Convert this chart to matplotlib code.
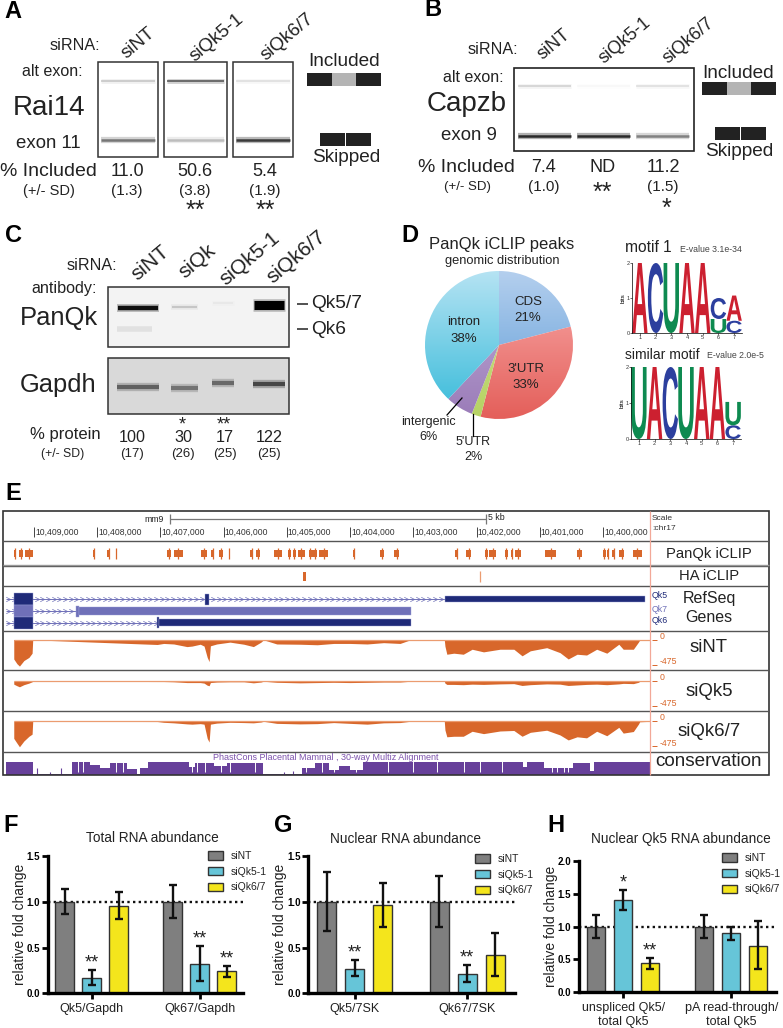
import numpy as np
import matplotlib
matplotlib.use('Agg')
import matplotlib.pyplot as plt
from matplotlib.colors import LinearSegmentedColormap
from matplotlib.font_manager import FontProperties
from matplotlib.patches import PathPatch, Rectangle
from matplotlib.path import Path
from matplotlib.textpath import TextPath
from matplotlib.transforms import Affine2D

W, H = 783, 1028
plt.rcParams['font.family'] = ['Liberation Sans', 'DejaVu Sans']
TXT = '#222222'
ORANGE = '#d8672b'
PINK = '#f2a898'
PURPLE = '#67409a'
NAVY = '#1f2a78'
LILAC = '#6f70b8'

# gels, panels A and B (band darkness 0-1)
GEL_A_ALT = [0.18, 0.60, 0.10]
GEL_A_EXON = [0.50, 0.22, 0.80]
GEL_B_ALT = [0.14, 0.02, 0.10]
GEL_B_EXON = [0.90, 0.90, 0.45]
LANES_ABC = ['siNT', 'siQk5-1', 'siQk6/7']
A_INCL = ['11.0', '50.6', '5.4']
A_SD = ['(1.3)', '(3.8)', '(1.9)']
A_STARS = ['', '**', '**']
B_INCL = ['7.4', 'ND', '11.2']
B_SD = ['(1.0)', '', '(1.5)']

# western, panel C
LANES_C = ['siNT', 'siQk', 'siQk5-1', 'siQk6/7']
WB_QK57 = [0.92, 0.15, 0.04, 1.0]
WB_QK6 = [0.07, 0.0, 0.0, 0.0]
WB_GAPDH = [0.55, 0.45, 0.50, 0.70]
C_PROT = ['100', '30', '17', '122']
C_SD = ['(17)', '(26)', '(25)', '(25)']
C_STARS = ['', '*', '**', '']

# pie, panel D
PIE_NAMES = ['CDS', "3'UTR", "5'UTR", 'intergenic', 'intron']
PIE_VALUES = [21, 33, 2, 6, 38]

# sequence logos, letters from bottom to top with height in bits
MOTIF1 = [[('A', 2.0)], [('C', 2.0)], [('U', 2.0)], [('A', 2.0)], [('A', 2.0)],
          [('U', 0.40), ('C', 0.60)], [('C', 0.35), ('A', 0.72)]]
MOTIF2 = [[('U', 2.0)], [('A', 2.0)], [('C', 2.0)], [('U', 2.0)], [('A', 2.0)], [('A', 2.0)],
          [('C', 0.38), ('U', 0.65)]]

# browser view, panel E (positions in kb on chr17)
TICK_KB = [10409, 10408, 10407, 10406, 10405, 10404, 10403, 10402, 10401, 10400]
ICLIP_START = [10409.32, 10409.24, 10409.14, 10408.07, 10407.84, 10407.71, 10406.90, 10406.78, 10406.36,
               10406.20, 10406.08, 10405.92, 10405.58, 10405.49, 10405.21, 10404.98, 10404.90, 10404.83,
               10404.65, 10404.60, 10404.49, 10403.95, 10403.52, 10403.30, 10402.34, 10402.17, 10401.87,
               10401.80, 10401.55, 10401.46, 10401.39, 10400.91, 10400.41, 10400.00, 10399.93, 10399.85,
               10399.74, 10399.53]
ICLIP_END = [10409.29, 10409.17, 10409.02, 10408.03, 10407.80, 10407.69, 10406.83, 10406.65, 10406.26,
             10406.15, 10406.01, 10405.90, 10405.53, 10405.43, 10405.08, 10404.94, 10404.86, 10404.72,
             10404.61, 10404.52, 10404.35, 10403.92, 10403.46, 10403.23, 10402.29, 10402.08, 10401.82,
             10401.69, 10401.51, 10401.43, 10401.30, 10400.75, 10400.34, 10399.96, 10399.90, 10399.81,
             10399.66, 10399.38]
HA_START = [10404.75]
HA_END = [10404.70]
HA_THIN = [10401.95]

QK5_EXONS = [(10409.32, 10409.02, 12), (10406.30, 10406.23, 11), (10402.50, 10399.33, 6)]
QK7_EXONS = [(10409.32, 10409.02, 12), (10408.33, 10408.29, 11), (10408.29, 10403.04, 7.5)]
QK6_EXONS = [(10409.32, 10409.02, 12), (10407.05, 10407.02, 11), (10407.02, 10403.04, 7.5)]
QK5_INTRON = (10409.44, 10402.50)
QK7_INTRON = (10409.44, 10408.33)
QK6_INTRON = (10409.44, 10407.05)

COV_KB = [10409.32, 10409.27, 10409.23, 10409.16, 10409.08, 10409.03, 10409.02,
          10407.05, 10406.95, 10406.79, 10406.58, 10406.50, 10406.37, 10406.31, 10406.26, 10406.23, 10406.21,
          10406.11, 10405.90, 10405.68, 10405.53, 10405.41, 10405.37,
          10405.16, 10404.79, 10404.52, 10404.26, 10404.00, 10403.73, 10403.47, 10403.21, 10403.08, 10403.05,
          10402.51, 10402.50, 10402.47, 10402.36, 10402.21, 10402.07, 10401.89, 10401.63, 10401.41, 10401.28,
          10401.15, 10400.89, 10400.68, 10400.55, 10400.41, 10400.26, 10400.10, 10399.94, 10399.75, 10399.68,
          10399.52, 10399.44, 10399.42, 10399.25]
COV_SINT = [370, 460, 505, 400, 340, 260, 6,
            95, 75, 85, 135, 125, 90, 125, 340, 420, 120, 85, 50, 90, 135, 50, 6,
            85, 90, 100, 75, 75, 85, 60, 75, 20, 6,
            6, 125, 280, 260, 280, 185, 235, 185, 185, 310, 215, 155, 250, 370, 280, 295, 185, 260, 90, 185, 185, 50, 12, 6]
COV_SIQK5 = [60, 90, 110, 70, 40, 15, 3,
             10, 10, 15, 30, 30, 30, 40, 80, 90, 30, 20, 15, 15, 35, 20, 5,
             25, 35, 30, 25, 30, 25, 20, 20, 8, 4,
             4, 40, 65, 65, 70, 60, 65, 55, 50, 85, 70, 55, 60, 85, 75, 65, 60, 70, 55, 45, 50, 25, 8, 4]
COV_SIQK67 = [330, 420, 490, 380, 290, 250, 6,
              10, 25, 35, 55, 60, 50, 60, 330, 400, 60, 40, 25, 30, 35, 20, 6,
              45, 55, 50, 30, 45, 60, 35, 30, 10, 6,
              6, 170, 300, 290, 290, 195, 240, 190, 180, 290, 215, 175, 265, 360, 300, 320, 195, 280, 120, 230, 200, 60, 15, 6]
COV_NAMES = ['siNT', 'siQk5', 'siQk6/7']

CONS_KB = [10409.45, 10409.01, 10408.75, 10408.70, 10408.40, 10408.11, 10407.95, 10407.79, 10407.53, 10407.37,
           10407.32, 10407.19, 10406.55, 10406.45, 10406.16, 10405.95, 10405.68, 10405.37, 10404.76, 10404.55,
           10404.34, 10404.18, 10404.00, 10403.79, 10401.26, 10401.20, 10400.94, 10400.47, 10400.20, 10400.15,
           10399.25]
CONS_H = [1.0, 0.05, 0.05, 0.05, 1.0, 0.75, 0.55, 0.9, 0.45, 0.10,
          0.5, 1.0, 0.6, 0.95, 0.65, 0.9, 0.95, 0.06, 0.5, 0.9,
          0.4, 0.7, 0.4, 1.0, 0.6, 1.0, 0.5, 0.95, 0.3, 1.0, 1.0]
CONS_SPIKE_KB = [10408.96, 10408.74, 10408.58, 10405.05, 10404.90]
CONS_SPIKE_H = [0.55, 0.25, 0.55, 0.2, 0.3]
CONS_DIPS = [10408.30, 10408.22, 10407.70, 10407.60, 10406.50, 10406.42, 10406.30, 10406.05, 10405.90, 10405.50,
             10404.70, 10404.45, 10404.25, 10403.90, 10403.40, 10403.00, 10402.62, 10402.20, 10401.95, 10401.60,
             10400.80, 10400.72, 10400.62, 10400.55]

# bar charts, panels F, G, H
BAR_SERIES = ['siNT', 'siQk5-1', 'siQk6/7']
F_GROUPS = ['Qk5/Gapdh', 'Qk67/Gapdh']
F_VALS = [1.0, 0.17, 0.95, 1.0, 0.32, 0.24]
F_LOW = [0.87, 0.09, 0.81, 0.82, 0.13, 0.18]
F_HIGH = [1.14, 0.26, 1.11, 1.18, 0.52, 0.30]
F_STARS = ['', '**', '', '', '**', '**']
G_GROUPS = ['Qk5/7SK', 'Qk67/7SK']
G_VALS = [1.0, 0.27, 0.96, 1.0, 0.21, 0.42]
G_LOW = [0.68, 0.19, 0.72, 0.72, 0.12, 0.19]
G_HIGH = [1.33, 0.36, 1.20, 1.28, 0.31, 0.66]
G_STARS = ['', '**', '', '', '**', '']
H_GROUPS = ['unspliced Qk5/\ntotal Qk5', 'pA read-through/\ntotal Qk5']
H_VALS = [1.0, 1.41, 0.44, 1.0, 0.90, 0.71]
H_LOW = [0.83, 1.25, 0.36, 0.83, 0.80, 0.35]
H_HIGH = [1.17, 1.56, 0.52, 1.18, 1.00, 1.08]
H_STARS = ['', '*', '**', '', '', '']


def px_axes(x0, y0, x1, y1, **kw):
    return fig.add_axes([x0 / W, 1 - y1 / H, (x1 - x0) / W, (y1 - y0) / H], **kw)


def label(x, y, s, size, ha='center', color=TXT, **kw):
    ov.text(x, y, s, fontsize=size, ha=ha, va='center', color=color, **kw)


def lane_labels(xs, ys, names, size=13.5):
    for x, y, name in zip(xs, ys, names):
        label(x, y, name, size, rotation=40, rotation_mode='anchor')


def gel(x0, x1, y_alt, y_exon, alt, exon):
    ov.hlines(y_alt, x0, x1, color='0.15', lw=3.5, alpha=alt * 0.35)
    ov.hlines(y_alt, x0, x1, color='0.15', lw=1.4, alpha=alt)
    ov.hlines(y_exon, x0, x1, color='0.15', lw=4.5, alpha=exon * 0.4)
    ov.hlines(y_exon, x0, x1, color='0.1', lw=1.8, alpha=exon)


def exon_icon(x, y, included=True):
    if included:
        ov.add_patch(Rectangle((x, y), 25, 13, fc='#222222', ec='none'))
        ov.add_patch(Rectangle((x + 25, y), 24, 13, fc='#b4b4b4', ec='none'))
        ov.add_patch(Rectangle((x + 49, y), 25, 13, fc='#222222', ec='none'))
    else:
        ov.add_patch(Rectangle((x, y), 25, 13, fc='#222222', ec='none'))
        ov.add_patch(Rectangle((x + 26, y), 25, 13, fc='#222222', ec='none'))


def logo(ax, motif):
    colors = {'A': '#cc2030', 'C': '#2c3f9e', 'U': '#0e8a50'}
    fp = FontProperties(family='Liberation Sans', weight='bold')
    for i, stack in enumerate(motif):
        base = 0
        for letter, h in stack:
            tp = TextPath((0, 0), letter, size=1, prop=fp)
            box = tp.get_extents()
            tr = Affine2D().translate(-box.x0, -box.y0).scale(0.98 / box.width, h / box.height)
            tr = tr.translate(i + 0.51, base)
            ax.add_patch(PathPatch(tr.transform_path(tp), fc=colors[letter], ec='none'))
            base += h
    ax.set_xlim(0.5, 7.5)
    ax.set_ylim(0, 2)
    ax.set_xticks(range(1, 8))
    ax.set_yticks([0, 1, 2])
    ax.tick_params(labelsize=4, length=1.5, width=0.5, pad=0, colors='#333333')
    ax.set_ylabel('bits', fontsize=4.5, labelpad=0.5)
    for s in ['top', 'right']:
        ax.spines[s].set_visible(False)
    for s in ['left', 'bottom']:
        ax.spines[s].set_linewidth(0.5)
    ax.patch.set_alpha(0)


def track(y0, y1):
    ax = px_axes(3, y0, 769, y1)
    ax.set_xlim(KB_LEFT, KB_RIGHT)
    ax.axis('off')
    ax.patch.set_alpha(0)
    return ax


def barchart(rect, vals, low, high, stars, groups, ymax, yticks, title_xy, title, star_pad):
    first, step, left, right, top, bottom = rect
    ax = px_axes(left, top, right, bottom)
    x = [0, 1, 2, 4, 5, 6]
    colors = ['#7f7f7f', '#66c5d8', '#f4e51c'] * 2
    ax.axhline(1.0, color='#111111', lw=1.7, ls=(0, (1, 1.4)), zorder=1)
    bars = ax.bar(x, vals, width=0.67, color=colors, edgecolor='#333333', lw=1, zorder=2)
    err = [np.array(vals) - np.array(low), np.array(high) - np.array(vals)]
    ax.errorbar(x, vals, yerr=err, fmt='none', ecolor='#111111', elinewidth=1.7, capsize=3, capthick=1.7, zorder=3)
    for xi, hi, st in zip(x, high, stars):
        if st:
            ax.annotate(st, (xi, hi), xytext=(0, star_pad), textcoords='offset points', ha='center', va='center',
                        fontsize=13, color=TXT)
    ax.set_xlim((left - first) / step, (right - first) / step)
    ax.set_ylim(0, ymax)
    ax.set_xticks([1, 5])
    ax.set_xticklabels(groups, fontsize=9, color=TXT, linespacing=1.25)
    ax.set_yticks(yticks)
    ax.set_yticklabels(['%.1f' % t for t in yticks], fontsize=7, fontweight='bold')
    ax.tick_params(axis='both', width=2, length=4, pad=1.5)
    ax.tick_params(axis='x', pad=3)
    ax.set_ylabel('relative fold change', fontsize=10, color=TXT, labelpad=0)
    for s in ['top', 'right']:
        ax.spines[s].set_visible(False)
    for s in ['left', 'bottom']:
        ax.spines[s].set_linewidth(2.4)
    ax.patch.set_alpha(0)
    label(title_xy[0], title_xy[1], title, 9.8)
    return ax, bars


fig = plt.figure(figsize=(W / 100, H / 100), dpi=100)
ov = fig.add_axes([0, 0, 1, 1], zorder=10)
ov.set_xlim(0, W)
ov.set_ylim(H, 0)
ov.axis('off')

for s, x, y in [('A', 13, 11), ('B', 433, 10), ('C', 13, 236), ('D', 410, 235), ('E', 13, 494),
                ('F', 11, 825), ('G', 283, 825), ('H', 556, 825)]:
    label(x, y, s, 17, color='black', fontweight='bold')

# panel A
label(100, 46, 'siRNA:', 11.6, ha='right')
label(83, 72, 'alt exon:', 11.5, ha='right')
label(49, 108, 'Rai14', 20)
label(48.5, 144, 'exon 11', 13.4)
label(0, 171, '% Included', 14, ha='left')
label(49, 191, '(+/- SD)', 10.5)
lane_labels([138, 217, 287], [43, 38, 37], LANES_ABC)
for i, (x0, x1, xc) in enumerate([(98, 158, 127), (164, 227, 195), (233, 293, 265)]):
    ov.add_patch(Rectangle((x0, 62), x1 - x0, 95, fc='white', ec='#333333', lw=1.1))
    gel(x0 + 3, x1 - 3, 81, 140, GEL_A_ALT[i], GEL_A_EXON[i])
    label(xc, 172, A_INCL[i], 13)
    label(xc, 191, A_SD[i], 11)
    label(xc, 211, A_STARS[i], 18)
label(344, 62, 'Included', 13.7)
exon_icon(307, 73)
exon_icon(320, 133, False)
label(346, 158, 'Skipped', 13.7)

# panel B
label(518, 50, 'siRNA:', 11.6, ha='right')
label(504, 77, 'alt exon:', 11.5, ha='right')
label(467, 104, 'Capzb', 20)
label(469, 136, 'exon 9', 13.4)
label(418, 168, '% Included', 14, ha='left')
label(467, 187, '(+/- SD)', 9.5)
lane_labels([554, 625, 688], [45, 41, 41], LANES_ABC, size=13)
ov.add_patch(Rectangle((514, 68), 180, 83, fc='white', ec='#222222', lw=1.2))
for i, (x0, x1, xc) in enumerate([(518, 571, 544), (577, 630, 603), (636, 689, 663)]):
    gel(x0, x1, 86, 136, GEL_B_ALT[i], GEL_B_EXON[i])
    label(xc, 167, B_INCL[i], 13)
    label(xc, 187, B_SD[i], 11)
label(602, 193, '**', 18)
label(666, 209, '*', 18)
label(738, 73, 'Included', 13.7)
exon_icon(702, 82)
exon_icon(715, 127, False)
label(739, 152, 'Skipped', 13.7)

# panel C
label(117, 266, 'siRNA:', 11.6, ha='right')
label(97, 288, 'antibody:', 11.6, ha='right')
label(59, 318, 'PanQk', 18.4)
label(58, 385, 'Gapdh', 18.4)
lane_labels([150, 197, 250, 296], [263, 261, 259, 257], LANES_C, size=15)
ov.add_patch(Rectangle((108, 287), 181, 60, fc='#f3f3f3', ec='#333333', lw=1.1))
ov.add_patch(Rectangle((108, 358), 181, 56, fc='#d9d9d9', ec='#333333', lw=1.1))
LANE_SPANS = [(118, 158), (172, 197), (213, 233), (254, 284)]
for i, (x0, x1) in enumerate(LANE_SPANS):
    ys = [307.5, 307, 303, 305][i]
    lw = [3.2, 1.5, 1.2, 6.5][i]
    ov.hlines(ys, x0 - 1, x1 + 1, color='black', lw=lw + 2.5, alpha=WB_QK57[i] * 0.25)
    ov.hlines(ys, x0, x1, color='black', lw=lw, alpha=WB_QK57[i])
    if WB_QK6[i] > 0:
        ov.hlines(329, x0 - 1, x1 - 6, color='black', lw=4, alpha=WB_QK6[i])
    yg = [387, 388, 383, 384][i]
    ov.hlines(yg, x0 - 1, x1 + 1, color='#202020', lw=6, alpha=WB_GAPDH[i] * 0.4)
    ov.hlines(yg, x0 - 1, x1 + 1, color='#202020', lw=3, alpha=WB_GAPDH[i])
ov.hlines([304, 329], 297, 308, color='#222222', lw=1.1)
label(311, 304, 'Qk5/7', 13.8, ha='left')
label(311, 329, 'Qk6', 13.8, ha='left')
label(65, 434, '% protein', 12)
label(63, 454, '(+/- SD)', 8.8)
for i, xc in enumerate([132, 183, 225, 269]):
    label(xc, 437, C_PROT[i], 11.6)
    label(xc, 454, C_SD[i], 9.5)
    label(xc - (1 if i else 0), 425, C_STARS[i], 13)

# panel D
label(502, 245, 'PanQk iCLIP peaks', 12)
label(502, 261, 'genomic distribution', 9.3)
pie_ax = px_axes(425, 271, 573, 419)
wedges, _ = pie_ax.pie(PIE_VALUES, startangle=90, counterclock=False, radius=1)
PIE_GRAD = [('#b4cfee', '#5a9ad6'), ('#f9acab', '#e45f5a'), ('#cfe08a', '#b6d264'),
            ('#c3b0d8', '#9a7bb8'), ('#b5e3f3', '#35bad9')]
for wedge, (top, bot) in zip(wedges, PIE_GRAD):
    wedge.set_facecolor('none')
    cmap = LinearSegmentedColormap.from_list('g', [top, bot])
    img = pie_ax.imshow(np.linspace(0, 1, 128).reshape(-1, 1), cmap=cmap, extent=(-1, 1, -1, 1), aspect='equal',
                        origin='upper')
    img.set_clip_path(wedge)
pie_ax.set_xlim(-1, 1)
pie_ax.set_ylim(-1, 1)
pie_ax.axis('off')
label(528, 302, 'CDS', 9.5)
label(528, 318, '%d%%' % PIE_VALUES[0], 9.5)
label(526, 369, "3'UTR", 9.5)
label(526, 385, '%d%%' % PIE_VALUES[1], 9.5)
label(464, 322, 'intron', 9.5)
label(464, 339, '%d%%' % PIE_VALUES[4], 9.5)
label(428, 422, 'intergenic', 9)
label(428, 437, '%d%%' % PIE_VALUES[3], 9)
label(473, 442, "5'UTR", 9)
label(473, 457, '%d%%' % PIE_VALUES[2], 9)
ov.plot([462, 447], [398, 415], color='black', lw=0.9)
ov.plot([472.5, 472.5], [414, 436], color='black', lw=0.9)

label(625, 248, 'motif 1', 11.2, ha='left')
label(680, 250, 'E-value 3.1e-34', 6.3, ha='left', color='#444444')
label(625, 355, 'similar motif', 10, ha='left')
label(707, 356, 'E-value 2.0e-5', 6.3, ha='left', color='#444444')
logo(px_axes(632, 263, 742, 333), MOTIF1)
logo(px_axes(631, 367, 741, 439), MOTIF2)

# panel E
PX_PER_KB = (603 - 34) / 9.0
KB_LEFT = 10409 + (34 - 3) / PX_PER_KB
KB_RIGHT = 10400 - (769 - 603) / PX_PER_KB


def kb_px(kb):
    return 34 + (10409 - kb) * PX_PER_KB


ov.add_patch(Rectangle((3, 511), 766, 264, fc='none', ec='#333333', lw=1.2))
for y in [541, 566, 586, 631, 670, 711, 752]:
    ov.hlines(y, 3, 769, color='#555555', lw=1)
ov.hlines(565, 3, 769, color='#999999', lw=1)
ov.vlines(650, 511, 775, color=PINK, lw=0.9)
label(164, 519, 'mm9', 6.3, ha='right')
ov.hlines(519, 170, 486, color='#777777', lw=0.9)
ov.vlines([170, 486], 514, 524, color='#777777', lw=0.9)
label(488, 518, '5 kb', 6.3, ha='left')
for kb in TICK_KB:
    px = kb_px(kb)
    ov.vlines(px, 527, 537, color='#444444', lw=0.7)
    label(px + 1, 532, '{:,}'.format(kb * 1000), 6.2, ha='left', color='#333333')
label(652, 518, 'Scale', 6, ha='left', color='#333333')
label(652, 529, ':chr17', 6, ha='left', color='#333333')

ax = track(541, 566)
ax.set_ylim(-1, 1)
ICLIP_W = np.array(ICLIP_END) - np.array(ICLIP_START)
ax.barh(0, ICLIP_W, left=ICLIP_START, height=0.62, color=ORANGE)
ax.vlines(np.array(ICLIP_START) + ICLIP_W / 2, -0.44, 0.44, color=ORANGE, lw=0.9)
ax.set_xlim(KB_LEFT, KB_RIGHT)

ax = track(566, 586)
ax.set_ylim(-1, 1)
ax.barh(0, np.array(HA_END) - np.array(HA_START), left=HA_START, height=0.9, color=ORANGE)
ax.vlines(HA_THIN, -0.55, 0.55, color='#eb9c70', lw=0.9)
ax.set_xlim(KB_LEFT, KB_RIGHT)

ax = track(586, 631)
ax.set_ylim(631, 586)
CHEVRON = Path([(-1, 1), (1, 0), (-1, -1)], [Path.MOVETO, Path.LINETO, Path.LINETO])
GENE_ROWS = [(599.3, QK5_EXONS, QK5_INTRON, NAVY), (611, QK7_EXONS, QK7_INTRON, LILAC), (622.7, QK6_EXONS, QK6_INTRON, NAVY)]
for y, exons, intron, col in GENE_ROWS:
    ax.hlines(y, intron[0], intron[1], color=LILAC, lw=0.7)
    chevrons = np.arange(intron[0] - 0.03, intron[1], -0.09)
    ax.plot(chevrons, [y] * len(chevrons), ls='none', marker=CHEVRON, ms=3.2, mfc='none', mec=LILAC, mew=0.5)
    for start, end, h in exons:
        ax.barh(y, end - start, left=start, height=h, color=col, edgecolor='#9aa0d8', lw=0.3, zorder=3)
ax.set_xlim(KB_LEFT, KB_RIGHT)

COV_ROWS = [(631, 670, 639.5, COV_SINT), (670, 711, 681, COV_SIQK5), (711, 752, 721, COV_SIQK67)]
READS_PER_PX = 475 / 25.0
for y0, y1, zero, depth in COV_ROWS:
    ax = track(y0, y1)
    ax.set_ylim((y1 - zero) * READS_PER_PX, (y0 - zero) * READS_PER_PX)
    ax.hlines(0, COV_KB[0], COV_KB[-1], color='#eb9c70', lw=0.9)
    ax.fill_between(COV_KB, 0, depth, color=ORANGE, lw=0)
    ax.set_xlim(KB_LEFT, KB_RIGHT)
    ov.hlines([zero, zero + 25], 652, 657, color=ORANGE, lw=0.7)
    label(662, zero - 3, '0', 6.3, color=ORANGE)
    label(668, zero + 22, '-475', 6.3, color=ORANGE)

ax = track(752, 775)
ax.set_ylim(0, 1.75)
ax.fill_between(CONS_KB, 0, CONS_H, step='post', color=PURPLE, lw=0)
ax.vlines(CONS_SPIKE_KB, 0, CONS_SPIKE_H, color=PURPLE, lw=0.8)
ax.vlines(CONS_DIPS, 0.25, 1.05, color='white', lw=0.7)
ax.set_xlim(KB_LEFT, KB_RIGHT)
label(213, 757, 'PhastCons Placental Mammal , 30-way Multiz Alignment', 6.5, ha='left', color='#7d52ad')

for name, y, col in [('Qk5', 596, NAVY), ('Qk7', 609, LILAC), ('Qk6', 620.5, NAVY)]:
    label(652, y, name, 6.3, ha='left', color=col)
label(709, 554, 'PanQk iCLIP', 10.6)
label(709, 576, 'HA iCLIP', 10.6)
label(709, 599, 'RefSeq', 11.5)
label(709, 618, 'Genes', 11.5)
for name, y in zip(COV_NAMES, [648, 692, 731]):
    label(709, y, name, 13.4)
label(709, 762, 'conservation', 13.6)

# panels F, G, H
fax, fb = barchart((64.5, 27, 47.7, 243, 856, 993.3), F_VALS, F_LOW, F_HIGH, F_STARS, F_GROUPS, 1.5,
                   [0, 0.5, 1.0, 1.5], (152, 838), 'Total RNA abundance', 5)
gax, gb = barchart((326.7, 28.1, 308.3, 515, 856, 993.3), G_VALS, G_LOW, G_HIGH, G_STARS, G_GROUPS, 1.5,
                   [0, 0.5, 1.0, 1.5], (405, 839), 'Nuclear RNA abundance', 5)
hax, hb = barchart((596.3, 27, 579, 775.7, 861, 992.3), H_VALS, H_LOW, H_HIGH, H_STARS, H_GROUPS, 2.0,
                   [0, 0.5, 1.0, 1.5, 2.0], (681, 839), 'Nuclear Qk5 RNA abundance', 5)
for ax_, bars, xy in [(fax, fb, (208, 851)), (gax, gb, (475, 854)), (hax, hb, (722, 853))]:
    ax_.legend(bars[:3], BAR_SERIES, loc='upper left', bbox_to_anchor=xy, bbox_transform=ov.transData, frameon=False,
               fontsize=7.5, borderpad=0, borderaxespad=0, handlelength=1.45, handleheight=0.85, labelspacing=0.55,
               handletextpad=0.75, labelcolor=TXT)

fig.savefig('out.png', dpi=100)
